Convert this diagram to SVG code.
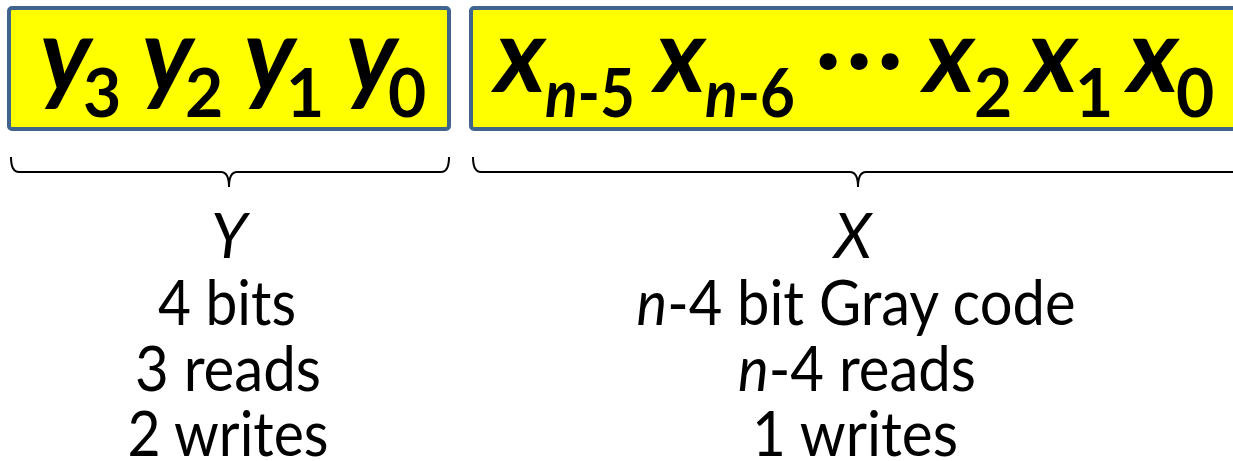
<svg xmlns="http://www.w3.org/2000/svg" width="1233" height="461" viewBox="0 0 1233 461">
<style>
.box{fill:#ffff00;stroke:#41648f;stroke-width:4}
.v{font-family:Lato,"Open Sans",sans-serif;font-weight:bold;font-style:italic;font-size:104px;fill:#000}
.s{font-family:Lato,"Open Sans",sans-serif;font-weight:bold;font-style:normal;font-size:66px;fill:#000}
.si{font-style:italic}
.dot{font-family:Lato,"Open Sans",sans-serif;font-weight:bold;font-size:90px;fill:#000;text-anchor:middle}
.brace{fill:none;stroke:#000;stroke-width:2}
.lbl{font-family:Lato,"Open Sans",sans-serif;font-size:62px;fill:#000;text-anchor:middle}
.it{font-style:italic}
</style>
<g id="nodeY">
<rect class="box" x="9" y="8" width="440" height="121" rx="3"/>
<text class="v" x="40" y="92">y</text><text class="s" x="83" y="117">3</text>
<text class="v" x="142" y="92">y</text><text class="s" x="185" y="117">2</text>
<text class="v" x="244" y="92">y</text><text class="s" x="286" y="117">1</text>
<text class="v" x="346" y="92">y</text><text class="s" x="388" y="117">0</text>
</g>
<g id="nodeX">
<rect class="box" x="471" y="8" width="800" height="121" rx="3"/>
<text class="v" x="495" y="92">x</text><text class="s" x="545" y="117" textLength="90" lengthAdjust="spacingAndGlyphs"><tspan class="si">n</tspan>-5</text>
<text class="v" x="655" y="92">x</text><text class="s" x="705" y="117" textLength="90" lengthAdjust="spacingAndGlyphs"><tspan class="si">n</tspan>-6</text>
<text class="dot" x="828" y="88">·</text><text class="dot" x="859" y="88">·</text><text class="dot" x="890" y="88">·</text>
<text class="v" x="924" y="92">x</text><text class="s" x="974" y="117">2</text>
<text class="v" x="1027" y="92">x</text><text class="s" x="1075" y="117">1</text>
<text class="v" x="1128" y="92">x</text><text class="s" x="1176" y="117">0</text>
</g>
<g id="connectors">
<path class="brace" d="M11,157 Q11,172 19,172 L221,172 Q229,172 229,187 Q229,172 237,172 L441,172 Q449,172 449,157"/>
<path class="brace" d="M473,157 Q473,172 481,172 L850,172 Q858,172 858,187 Q858,172 866,172 L1240,172"/>
</g>
<g id="labelY">
<text class="lbl it" x="229" y="258">Y</text>
<text class="lbl" x="227" y="325" textLength="138" lengthAdjust="spacingAndGlyphs">4 bits</text>
<text class="lbl" x="228" y="391" textLength="186" lengthAdjust="spacingAndGlyphs">3 reads</text>
<text class="lbl" x="228" y="456" textLength="201" lengthAdjust="spacingAndGlyphs">2 writes</text>
</g>
<g id="labelX">
<text class="lbl it" x="853" y="258">X</text>
<text class="lbl" x="856" y="325" textLength="439" lengthAdjust="spacingAndGlyphs"><tspan class="it">n</tspan>-4 bit Gray code</text>
<text class="lbl" x="857" y="391" textLength="238" lengthAdjust="spacingAndGlyphs"><tspan class="it">n</tspan>-4 reads</text>
<text class="lbl" x="855" y="456" textLength="206" lengthAdjust="spacingAndGlyphs">1 writes</text>
</g>
</svg>
